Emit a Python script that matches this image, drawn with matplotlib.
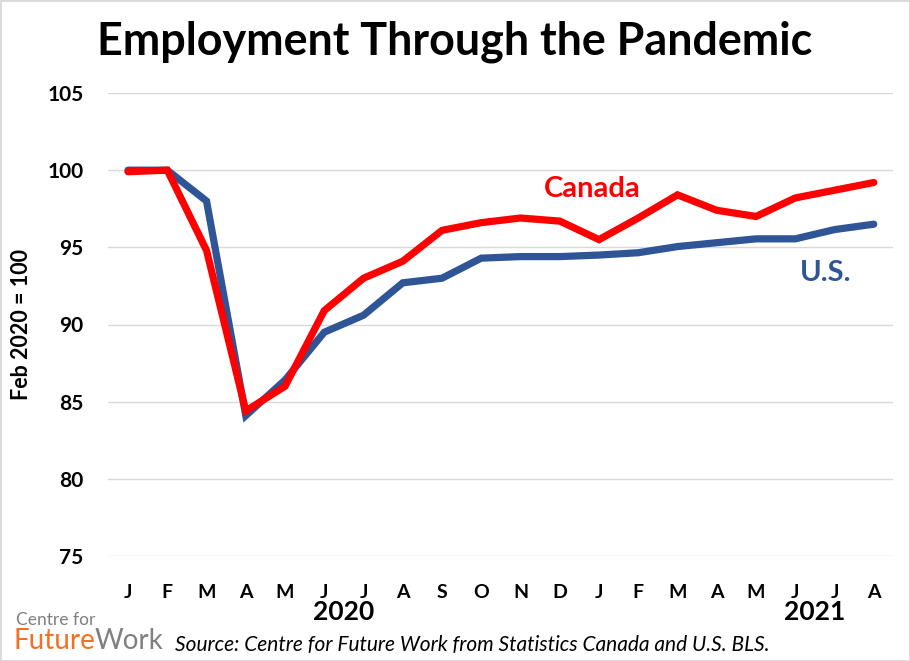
import matplotlib
matplotlib.use("Agg")
import matplotlib.pyplot as plt
from matplotlib.patches import Rectangle

months = ["J", "F", "M", "A", "M", "J", "J", "A", "S", "O", "N", "D",
          "J", "F", "M", "A", "M", "J", "J", "A"]
canada = [99.9, 100.0, 94.8, 84.4, 86.0, 90.9, 93.0, 94.1, 96.1, 96.6, 96.9, 96.7,
          95.5, 96.9, 98.4, 97.4, 97.0, 98.2, 98.7, 99.2]
us = [100.0, 100.0, 98.0, 84.1, 86.4, 89.5, 90.6, 92.7, 93.0, 94.3, 94.4, 94.4,
      94.5, 94.65, 95.05, 95.3, 95.55, 95.55, 96.15, 96.5]
years = ["2020", "2021"]
year_pos = [5.5, 17.5]
yticks = [75, 80, 85, 90, 95, 100, 105]

FONT = "Lato"
RED = "#FF0000"
BLUE = "#2F5597"

fig = plt.figure(figsize=(9.1, 6.61), dpi=100)
ax = fig.add_axes([108.4 / 910, 1 - 556 / 661, 785 / 910, (556 - 93) / 661])

x = list(range(len(months)))
ax.plot(x, us, color=BLUE, lw=5.2, solid_capstyle="round", solid_joinstyle="miter", zorder=3)
ax.plot(x, canada, color=RED, lw=5.2, solid_capstyle="round", solid_joinstyle="miter", zorder=4)

ax.set_xlim(-0.5, len(months) - 0.5)
ax.set_ylim(75, 105)
ax.set_yticks(yticks)
ax.set_yticklabels([str(v) for v in yticks], fontfamily=FONT, fontweight="bold", fontsize=15)
ax.set_xticks(x)
ax.set_xticklabels(months, fontfamily=FONT, fontweight="bold", fontsize=14)
ax.tick_params(axis="both", length=0)
ax.tick_params(axis="y", pad=18)
ax.tick_params(axis="x", pad=20)
ax.grid(axis="y", color="#D9D9D9", lw=1)
ax.set_axisbelow(True)
for s in ax.spines.values():
    s.set_visible(False)

for yr, p in zip(years, year_pos):
    ax.text(p, -0.122, yr, transform=ax.get_xaxis_transform(), ha="center", va="center",
            fontfamily=FONT, fontweight="bold", fontsize=19)

fig.text(22 / 910, 1 - 324 / 661, "Feb 2020 = 100", rotation=90, ha="center", va="center",
         fontfamily=FONT, fontweight="bold", fontsize=15.5)

fig.text(0.5, 1 - 42 / 661, "Employment Through the Pandemic", ha="center", va="center",
         fontfamily=FONT, fontweight="bold", fontsize=32.3)

ax.text(11.84, 98.75, "Canada", color=RED, ha="center", va="center",
        fontfamily=FONT, fontweight="bold", fontsize=21)
ax.text(17.78, 93.35, "U.S.", color=BLUE, ha="center", va="center",
        fontfamily=FONT, fontweight="bold", fontsize=21)

fig.text(175 / 910, 1 - 645 / 661, "Source: Centre for Future Work from Statistics Canada and U.S. BLS.",
         ha="left", va="center", fontfamily=FONT, style="italic", fontsize=15)

fig.text(16 / 910, 1 - 620 / 661, "Centre for", ha="left", va="center",
         fontfamily=FONT, fontsize=12.5, color="#7F7F7F")
t1 = fig.text(14 / 910, 1 - 641 / 661, "Future", ha="left", va="center",
              fontfamily=FONT, fontsize=20, color="#F37021")
fig.canvas.draw()
bb = t1.get_window_extent()
fig.text((bb.x1 - 1) / 910, 1 - 641 / 661, "Work", ha="left", va="center",
         fontfamily=FONT, fontsize=20, color="#808080")

fig.patches.append(Rectangle((0, 0), 1, 1, transform=fig.transFigure, fill=False,
                             edgecolor="#D9D9D9", lw=2))

fig.savefig("out.png", dpi=100)
